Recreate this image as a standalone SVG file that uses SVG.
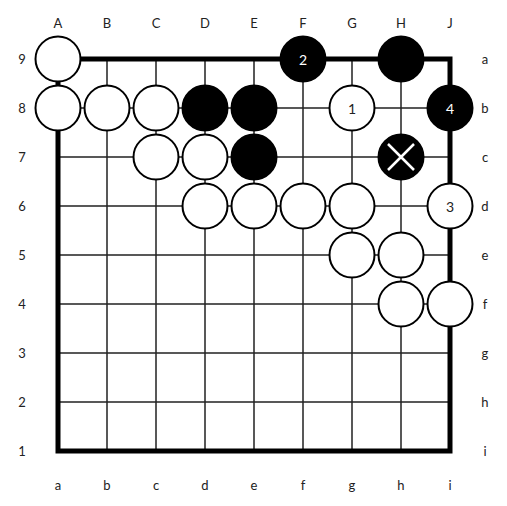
<svg xmlns="http://www.w3.org/2000/svg" width="507" height="506" viewBox="0 0 507 506">
<style>
.g{stroke:#222;stroke-width:1.5}
.b{fill:none;stroke:#000;stroke-width:5}
.w{fill:#fff;stroke:#000;stroke-width:2}
.k{fill:#000;stroke:#000;stroke-width:2}
.lb{font-family:Lato,"Liberation Sans",sans-serif;font-size:13px;fill:#222;text-anchor:middle;dominant-baseline:central}
.n{font-family:Lato,"Liberation Sans",sans-serif;font-size:14px;text-anchor:middle;dominant-baseline:central}
</style>
<rect width="507" height="506" fill="#fff"/>
<g id="grid">
<path class="g" d="M107 59V451M156 59V451M205 59V451M254 59V451M303 59V451M352 59V451M401 59V451M58 108H450M58 157H450M58 206H450M58 255H450M58 304H450M58 353H450M58 402H450"/>
<rect class="b" x="58" y="59" width="392" height="392"/>
</g>
<g id="labels">
<text class="lb" x="58" y="23">A</text><text class="lb" x="107" y="23">B</text><text class="lb" x="156" y="23">C</text><text class="lb" x="205" y="23">D</text><text class="lb" x="254" y="23">E</text><text class="lb" x="303" y="23">F</text><text class="lb" x="352" y="23">G</text><text class="lb" x="401" y="23">H</text><text class="lb" x="450" y="23">J</text>
<text class="lb" x="22" y="59">9</text><text class="lb" x="22" y="108">8</text><text class="lb" x="22" y="157">7</text><text class="lb" x="22" y="206">6</text><text class="lb" x="22" y="255">5</text><text class="lb" x="22" y="304">4</text><text class="lb" x="22" y="353">3</text><text class="lb" x="22" y="402">2</text><text class="lb" x="22" y="451">1</text>
<text class="lb" x="485" y="59">a</text><text class="lb" x="485" y="108">b</text><text class="lb" x="485" y="157">c</text><text class="lb" x="485" y="206">d</text><text class="lb" x="485" y="255">e</text><text class="lb" x="485" y="304">f</text><text class="lb" x="485" y="353">g</text><text class="lb" x="485" y="402">h</text><text class="lb" x="485" y="451">i</text>
<text class="lb" x="58" y="485">a</text><text class="lb" x="107" y="485">b</text><text class="lb" x="156" y="485">c</text><text class="lb" x="205" y="485">d</text><text class="lb" x="254" y="485">e</text><text class="lb" x="303" y="485">f</text><text class="lb" x="352" y="485">g</text><text class="lb" x="401" y="485">h</text><text class="lb" x="450" y="485">i</text>
</g>
<g id="A9"><circle class="w" cx="58" cy="59" r="22.5"/></g>
<g id="A8"><circle class="w" cx="58" cy="108" r="22.5"/></g>
<g id="B8"><circle class="w" cx="107" cy="108" r="22.5"/></g>
<g id="C8"><circle class="w" cx="156" cy="108" r="22.5"/></g>
<g id="C7"><circle class="w" cx="156" cy="157" r="22.5"/></g>
<g id="D7"><circle class="w" cx="205" cy="157" r="22.5"/></g>
<g id="D6"><circle class="w" cx="205" cy="206" r="22.5"/></g>
<g id="E6"><circle class="w" cx="254" cy="206" r="22.5"/></g>
<g id="F6"><circle class="w" cx="303" cy="206" r="22.5"/></g>
<g id="G6"><circle class="w" cx="352" cy="206" r="22.5"/></g>
<g id="G5"><circle class="w" cx="352" cy="255" r="22.5"/></g>
<g id="H5"><circle class="w" cx="401" cy="255" r="22.5"/></g>
<g id="H4"><circle class="w" cx="401" cy="304" r="22.5"/></g>
<g id="J4"><circle class="w" cx="450" cy="304" r="22.5"/></g>
<g id="G8"><circle class="w" cx="352" cy="108" r="22.5"/><text class="n" x="352" y="108" fill="#222">1</text></g>
<g id="J6"><circle class="w" cx="450" cy="206" r="22.5"/><text class="n" x="450" y="206" fill="#222">3</text></g>
<g id="D8"><circle class="k" cx="205" cy="108" r="22.5"/></g>
<g id="E8"><circle class="k" cx="254" cy="108" r="22.5"/></g>
<g id="E7"><circle class="k" cx="254" cy="157" r="22.5"/></g>
<g id="H9"><circle class="k" cx="401" cy="59" r="22.5"/></g>
<g id="F9"><circle class="k" cx="303" cy="59" r="22.5"/><text class="n" x="303" y="59" fill="#fff">2</text></g>
<g id="J8"><circle class="k" cx="450" cy="108" r="22.5"/><text class="n" x="450" y="108" fill="#fff">4</text></g>
<g id="H7"><circle class="k" cx="401" cy="157" r="22.5"/><path d="M388 144L414 170M414 144L388 170" stroke="#fff" stroke-width="2.5"/></g>
</svg>
